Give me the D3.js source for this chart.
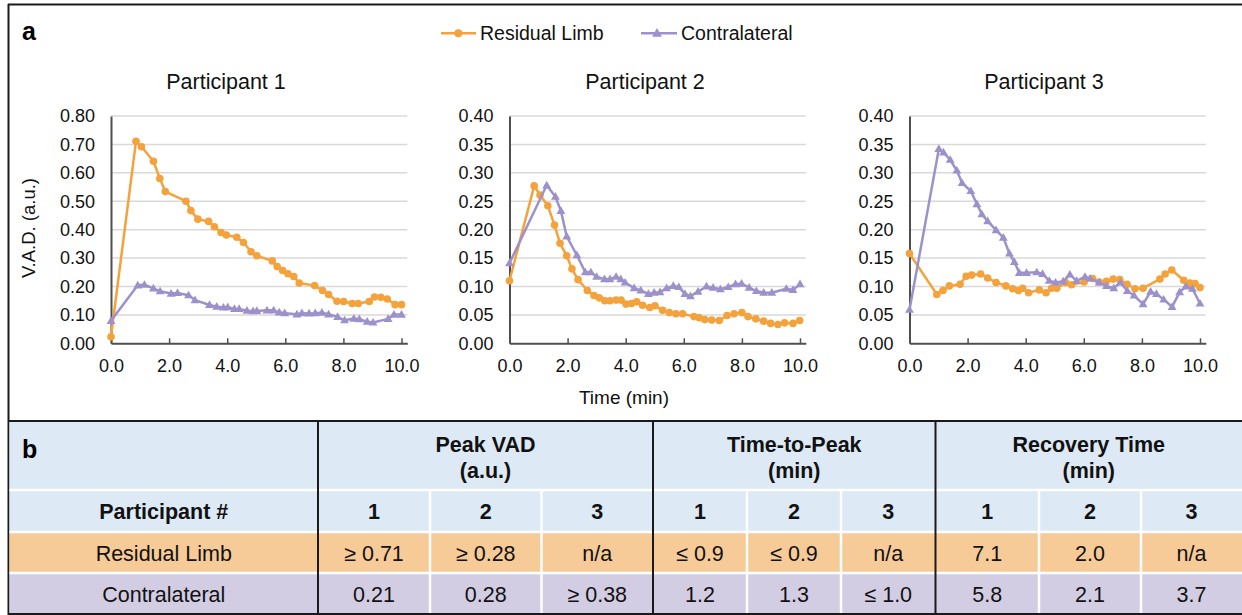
<!DOCTYPE html>
<html>
<head>
<meta charset="utf-8">
<script src="https://cdn.jsdelivr.net/npm/d3@7"></script>
<style>
  body { margin: 0; background: #fff; }
  svg { display: block; font-family: "Liberation Sans", Arial, sans-serif; }
</style>
</head>
<body>
<svg id="fig" width="1242" height="615"></svg>
<script>
// ---- Time series: vascular activity (V.A.D.) over time, per participant ----
const p1ResidualTime = [0, 0.86, 1.05, 1.46, 1.68, 1.87, 2.58, 2.75, 2.99, 3.36, 3.56, 3.79, 3.97, 4.33, 4.56, 4.82, 5.02, 5.55, 5.72, 5.91, 6.09, 6.29, 6.48, 7.01, 7.28, 7.49, 7.78, 8.01, 8.30, 8.51, 8.89, 9.07, 9.29, 9.51, 9.78, 10.0];
const p1ResidualVAD  = [0.023, 0.711, 0.692, 0.641, 0.580, 0.534, 0.500, 0.467, 0.437, 0.429, 0.410, 0.390, 0.381, 0.373, 0.355, 0.322, 0.308, 0.290, 0.270, 0.256, 0.245, 0.235, 0.212, 0.203, 0.186, 0.172, 0.148, 0.147, 0.140, 0.140, 0.147, 0.163, 0.162, 0.156, 0.136, 0.136];
const p1ContraTime = [0, 0.92, 1.15, 1.46, 1.69, 2.07, 2.29, 2.67, 2.89, 3.39, 3.64, 3.87, 4.02, 4.25, 4.41, 4.68, 4.89, 5.02, 5.37, 5.60, 5.79, 5.98, 6.40, 6.57, 6.82, 7.03, 7.26, 7.49, 7.80, 8.04, 8.36, 8.55, 8.82, 9.02, 9.54, 9.74, 10.0];
const p1ContraVAD  = [0.079, 0.204, 0.206, 0.193, 0.183, 0.175, 0.177, 0.169, 0.152, 0.135, 0.129, 0.126, 0.127, 0.121, 0.121, 0.115, 0.113, 0.114, 0.116, 0.116, 0.109, 0.106, 0.102, 0.106, 0.105, 0.106, 0.108, 0.102, 0.093, 0.081, 0.087, 0.085, 0.076, 0.073, 0.086, 0.101, 0.101];

const p2ResidualTime = [0, 0.85, 1.05, 1.32, 1.55, 1.74, 1.97, 2.15, 2.36, 2.68, 2.91, 3.09, 3.28, 3.46, 3.67, 3.84, 4.01, 4.20, 4.38, 4.58, 4.83, 5.01, 5.27, 5.50, 5.73, 5.96, 6.35, 6.53, 6.72, 6.96, 7.22, 7.49, 7.73, 8.00, 8.21, 8.48, 8.75, 8.99, 9.24, 9.47, 9.76, 9.99];
const p2ResidualVAD  = [0.110, 0.277, 0.261, 0.242, 0.208, 0.176, 0.154, 0.131, 0.112, 0.093, 0.084, 0.080, 0.075, 0.075, 0.076, 0.076, 0.069, 0.070, 0.073, 0.067, 0.063, 0.066, 0.058, 0.054, 0.052, 0.052, 0.047, 0.045, 0.042, 0.041, 0.040, 0.049, 0.052, 0.054, 0.047, 0.043, 0.039, 0.035, 0.033, 0.036, 0.035, 0.040];
const p2ContraTime = [0, 1.28, 1.58, 1.77, 1.97, 2.32, 2.61, 2.80, 3.00, 3.27, 3.46, 3.67, 3.83, 3.98, 4.29, 4.52, 4.78, 4.98, 5.18, 5.41, 5.64, 5.83, 6.04, 6.23, 6.49, 6.78, 7.01, 7.26, 7.53, 7.78, 7.99, 8.25, 8.50, 8.75, 9.03, 9.53, 9.76, 10.0];
const p2ContraVAD  = [0.141, 0.278, 0.258, 0.233, 0.188, 0.155, 0.125, 0.125, 0.117, 0.113, 0.113, 0.117, 0.113, 0.107, 0.097, 0.093, 0.087, 0.089, 0.090, 0.097, 0.101, 0.099, 0.087, 0.083, 0.091, 0.100, 0.098, 0.095, 0.099, 0.104, 0.105, 0.098, 0.092, 0.089, 0.089, 0.096, 0.094, 0.104];

const p3ResidualTime = [0, 0.94, 1.15, 1.37, 1.74, 1.95, 2.14, 2.45, 2.69, 2.98, 3.32, 3.55, 3.75, 3.90, 4.10, 4.47, 4.70, 4.89, 5.07, 5.37, 5.58, 6.01, 6.30, 6.53, 6.78, 7.01, 7.24, 7.49, 7.76, 8.04, 8.62, 8.80, 9.03, 9.44, 9.65, 9.83, 10.0];
const p3ResidualVAD  = [0.158, 0.086, 0.093, 0.101, 0.104, 0.118, 0.120, 0.122, 0.115, 0.107, 0.101, 0.096, 0.093, 0.097, 0.089, 0.094, 0.089, 0.097, 0.097, 0.107, 0.103, 0.108, 0.114, 0.108, 0.109, 0.113, 0.112, 0.104, 0.096, 0.097, 0.113, 0.122, 0.129, 0.111, 0.106, 0.105, 0.098];
const p3ContraTime = [0, 1.01, 1.17, 1.40, 1.63, 1.81, 2.11, 2.32, 2.49, 2.69, 2.98, 3.23, 3.44, 3.61, 3.78, 4.03, 4.38, 4.58, 4.81, 5.03, 5.29, 5.52, 5.75, 6.04, 6.21, 6.53, 6.78, 7.03, 7.26, 7.50, 7.73, 8.04, 8.30, 8.50, 8.75, 9.04, 9.30, 9.51, 9.74, 10.0];
const p3ContraVAD  = [0.059, 0.342, 0.336, 0.323, 0.304, 0.282, 0.268, 0.245, 0.227, 0.215, 0.199, 0.186, 0.158, 0.143, 0.124, 0.124, 0.125, 0.122, 0.110, 0.107, 0.109, 0.121, 0.110, 0.117, 0.114, 0.107, 0.101, 0.097, 0.107, 0.092, 0.084, 0.069, 0.091, 0.087, 0.077, 0.064, 0.090, 0.100, 0.096, 0.070];

const panelTitles = ["Participant 1", "Participant 2", "Participant 3"];
const seriesNames = ["Residual Limb", "Contralateral"];
const xTickValues = [0, 2, 4, 6, 8, 10];
const yMaxByPanel = [0.8, 0.4, 0.4];
const yStepByPanel = [0.1, 0.05, 0.05];

// ---- Summary table ----
const tableGroups = ["Peak VAD", "Time-to-Peak", "Recovery Time"];
const tableUnits = ["(a.u.)", "(min)", "(min)"];
const participantIds = ["1", "2", "3"];
const residualRow = ["≥ 0.71", "≥ 0.28", "n/a", "≤ 0.9", "≤ 0.9", "n/a", "7.1", "2.0", "n/a"];
const contraRow = ["0.21", "0.28", "≥ 0.38", "1.2", "1.3", "≤ 1.0", "5.8", "2.1", "3.7"];

// ---- Styling ----
const ORANGE = "#F4A23C";
const PURPLE = "#9D91CB";
const AXIS = "#4f4f4f";
const GRID = "#d9d9d9";
const FRAME = "#1a1a1a";

const svg = d3.select("#fig");

// Frame lines of the figure
const frame = svg.append("g").attr("stroke", FRAME).attr("stroke-width", 2);
frame.append("line").attr("x1", 8).attr("x2", 1242).attr("y1", 4.5).attr("y2", 4.5);
frame.append("line").attr("x1", 8.5).attr("x2", 8.5).attr("y1", 4).attr("y2", 615);

// Panel letter a
svg.append("text").attr("x", 22).attr("y", 40).attr("font-size", 25).attr("font-weight", "bold").text("a");

// Legend
const legend = svg.append("g");
[[441, 476, 458.3, 480, ORANGE, "circle"], [641, 677, 657, 681, PURPLE, "triangle"]].forEach((L, i) => {
  legend.append("line").attr("x1", L[0]).attr("x2", L[1]).attr("y1", 33.3).attr("y2", 33.3)
    .attr("stroke", L[4]).attr("stroke-width", 2.5);
  if (L[5] === "circle") {
    legend.append("circle").attr("cx", L[2]).attr("cy", 33.3).attr("r", 4).attr("fill", L[4]);
  } else {
    legend.append("path").attr("d", d3.symbol(d3.symbolTriangle, 42)())
      .attr("transform", `translate(${L[2]},33.8)`).attr("fill", L[4]);
  }
  legend.append("text").attr("x", L[3]).attr("y", 40.3).attr("font-size", 19.5).attr("fill", "#111").text(seriesNames[i]);
});

const panelSeries = [
  [[p1ResidualTime, p1ResidualVAD], [p1ContraTime, p1ContraVAD]],
  [[p2ResidualTime, p2ResidualVAD], [p2ContraTime, p2ContraVAD]],
  [[p3ResidualTime, p3ResidualVAD], [p3ContraTime, p3ContraVAD]]
];
const panelLeft = [111, 509.5, 909.5];
const titleCenter = [226, 645, 1044];
const unitPx = 29.05;          // pixels per minute
const yBottom = 343.3, yTop = 116;

panelSeries.forEach((series, p) => {
  const left = panelLeft[p];
  const x = d3.scaleLinear().domain([0, 10.2]).range([left, left + unitPx * 10.2]);
  const y = d3.scaleLinear().domain([0, yMaxByPanel[p]]).range([yBottom, yTop]);
  const yTicks = d3.range(0, yMaxByPanel[p] + 1e-9, yStepByPanel[p]).map(v => +v.toFixed(3));
  const g = svg.append("g");

  // horizontal gridlines
  g.append("g").selectAll("line").data(yTicks.filter(v => v > 0)).join("line")
    .attr("x1", x(0)).attr("x2", x(10.2)).attr("y1", d => y(d)).attr("y2", d => y(d))
    .attr("stroke", GRID).attr("stroke-width", 1.5);

  // y axis
  const yAxis = g.append("g").attr("transform", `translate(${x(0)},0)`)
    .call(d3.axisLeft(y).tickValues(yTicks).tickFormat(d3.format(".2f")).tickSize(0).tickPadding(16));
  yAxis.select(".domain").attr("stroke", AXIS).attr("stroke-width", 2);
  yAxis.selectAll("text").attr("font-size", 18).attr("fill", "#111").attr("font-family", "Liberation Sans, Arial, sans-serif");

  // x axis with ticks pointing into the plot
  const xAxis = g.append("g").attr("transform", `translate(0,${yBottom})`)
    .call(d3.axisBottom(x).tickValues(xTickValues).tickFormat(d3.format(".1f")).tickSizeInner(-5).tickSizeOuter(0).tickPadding(16));
  xAxis.select(".domain").attr("stroke", AXIS).attr("stroke-width", 2);
  xAxis.selectAll(".tick line").attr("stroke", AXIS).attr("stroke-width", 1.5);
  xAxis.selectAll("text").attr("font-size", 18).attr("fill", "#111").attr("font-family", "Liberation Sans, Arial, sans-serif");

  // title
  g.append("text").attr("x", titleCenter[p]).attr("y", 89).attr("text-anchor", "middle")
    .attr("font-size", 21.5).attr("fill", "#111").text(panelTitles[p]);

  const line = d3.line().x(d => x(d[0])).y(d => y(d[1]));
  series.forEach((s, k) => {
    const pts = s[0].map((t, i) => [t, s[1][i]]);
    const color = k === 0 ? ORANGE : PURPLE;
    g.append("path").datum(pts).attr("d", line).attr("fill", "none")
      .attr("stroke", color).attr("stroke-width", 2.5).attr("stroke-linejoin", "round");
    if (k === 0) {
      g.append("g").selectAll("circle").data(pts).join("circle")
        .attr("cx", d => x(d[0])).attr("cy", d => y(d[1])).attr("r", 3.8).attr("fill", color);
    } else {
      g.append("g").selectAll("path").data(pts).join("path")
        .attr("d", d3.symbol(d3.symbolTriangle, 34)())
        .attr("transform", d => `translate(${x(d[0])},${y(d[1]) + 0.5})`).attr("fill", color);
    }
  });
});

// axis titles
svg.append("text").attr("x", 624).attr("y", 404).attr("text-anchor", "middle")
  .attr("font-size", 19).attr("fill", "#111").text("Time (min)");
svg.append("text").attr("transform", "translate(35,228) rotate(-90)").attr("text-anchor", "middle")
  .attr("font-size", 18.5).attr("fill", "#111").text("V.A.D. (a.u.)");

// ---- Table b ----
const BLUE_FILL = "#DDE9F5";
const ORANGE_FILL = "#F7CB97";
const PURPLE_FILL = "#D3CDE4";
const colEdges = [9.5, 318, 430, 541.5, 653, 747, 841, 935.5, 1039, 1141, 1242];
const rowEdges = [422, 490, 532, 573, 614];
const table = svg.append("g");

// row backgrounds
[BLUE_FILL, BLUE_FILL, ORANGE_FILL, PURPLE_FILL].forEach((fill, r) => {
  table.append("rect").attr("x", colEdges[0]).attr("y", rowEdges[r])
    .attr("width", 1242 - colEdges[0]).attr("height", rowEdges[r + 1] - rowEdges[r]).attr("fill", fill);
});

// white cell separators
rowEdges.slice(1, 4).forEach(yv => {
  table.append("line").attr("x1", colEdges[0]).attr("x2", 1242).attr("y1", yv).attr("y2", yv)
    .attr("stroke", "#fff").attr("stroke-width", 2.5);
});
[2, 3, 5, 6, 8, 9].forEach(ci => {
  table.append("line").attr("x1", colEdges[ci]).attr("x2", colEdges[ci]).attr("y1", rowEdges[1]).attr("y2", rowEdges[4])
    .attr("stroke", "#fff").attr("stroke-width", 2.5);
});
// black group separators
[1, 4, 7].forEach(ci => {
  table.append("line").attr("x1", colEdges[ci]).attr("x2", colEdges[ci]).attr("y1", rowEdges[0]).attr("y2", rowEdges[4])
    .attr("stroke", FRAME).attr("stroke-width", 2);
});
// frame lines around table
table.append("line").attr("x1", 8).attr("x2", 1242).attr("y1", 421).attr("y2", 421).attr("stroke", FRAME).attr("stroke-width", 2.2);
table.append("line").attr("x1", 8).attr("x2", 1242).attr("y1", 614).attr("y2", 614).attr("stroke", FRAME).attr("stroke-width", 2);

const cellText = (cx, yv, txt, bold) => table.append("text").attr("x", cx).attr("y", yv)
  .attr("text-anchor", "middle").attr("font-size", 21.5).attr("font-weight", bold ? "bold" : "normal")
  .attr("fill", "#111").text(txt);

table.append("text").attr("x", 22).attr("y", 458).attr("font-size", 25).attr("font-weight", "bold").text("b");

tableGroups.forEach((gname, gi) => {
  const cx = (colEdges[1 + gi * 3] + colEdges[4 + gi * 3]) / 2;
  cellText(cx, 452, gname, true);
  cellText(cx, 477.5, tableUnits[gi], true);
});

cellText((colEdges[0] + colEdges[1]) / 2, 519, "Participant #", true);
cellText((colEdges[0] + colEdges[1]) / 2, 561, seriesNames[0], false);
cellText((colEdges[0] + colEdges[1]) / 2, 602, seriesNames[1], false);

for (let c = 0; c < 9; c++) {
  const cx = (colEdges[c + 1] + colEdges[c + 2]) / 2;
  cellText(cx, 519, participantIds[c % 3], true);
  cellText(cx, 561, residualRow[c], false);
  cellText(cx, 602, contraRow[c], false);
}
</script>
</body>
</html>
